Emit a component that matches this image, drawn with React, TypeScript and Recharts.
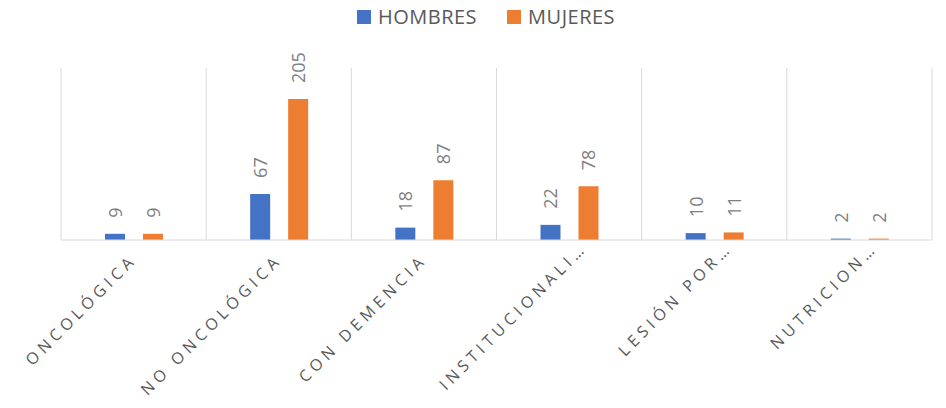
import { BarChart, Bar, XAxis, YAxis, CartesianGrid, LabelList } from 'recharts';

const categories = [
  'ONCOLÓGICA',
  'NO ONCOLÓGICA',
  'CON DEMENCIA',
  'INSTITUCIONALI…',
  'LESIÓN POR…',
  'NUTRICION…',
];
const hombres = [9, 67, 18, 22, 10, 2];
const mujeres = [9, 205, 87, 78, 11, 2];

const BLUE = '#4472C4';
const ORANGE = '#ED7D31';
const FONT = '"Open Sans", "Noto Sans", sans-serif';

const data = categories.map((name, i) => ({ name, hombres: hombres[i], mujeres: mujeres[i] }));

// truncated labels sit a bit further right/up, like Excel does
const AngledTick = ({ x, y, payload }: { x?: number; y?: number; payload?: { value: string } }) => {
  const cut = payload?.value.endsWith('…');
  const dx = cut ? 19 : 4;
  const dy = cut ? 1 : 13;
  return (
    <g transform={`translate(${(x ?? 0) + dx},${(y ?? 0) + dy})`}>
      <text
        textAnchor="end"
        transform="rotate(-45)"
        fontFamily={FONT}
        fontSize={16}
        letterSpacing={4.5}
        fill="#595959"
      >
        {payload?.value}
      </text>
    </g>
  );
};

const VerticalLabel = (props: any) => {
  const { x, y, width, value } = props;
  const cx = x + width / 2 + 7;
  const cy = y - 16;
  return (
    <text
      x={cx}
      y={cy}
      transform={`rotate(-90, ${cx}, ${cy})`}
      textAnchor="start"
      fontFamily={FONT}
      fontSize={18}
      fill="#7f7f7f"
    >
      {value}
    </text>
  );
};

const legendItems = [
  { label: 'HOMBRES', color: BLUE },
  { label: 'MUJERES', color: ORANGE },
];

const TopLegend = () => (
  <div
    style={{
      position: 'absolute',
      top: 2,
      left: 13,
      width: 946,
      display: 'flex',
      justifyContent: 'center',
      gap: 30,
      fontFamily: FONT,
      fontSize: 20,
      lineHeight: '30px',
      letterSpacing: 0.5,
      color: '#595959',
    }}
  >
    {legendItems.map((item) => (
      <span key={item.label} style={{ display: 'flex', alignItems: 'center', gap: 7 }}>
        <span style={{ width: 14, height: 14, background: item.color, display: 'inline-block' }} />
        {item.label}
      </span>
    ))}
  </div>
);

export default function App() {
  return (
    <div style={{ margin: -8, width: 946, height: 408, background: '#fff', position: 'relative' }}>
      <TopLegend />
      <BarChart
        width={946}
        height={408}
        data={data}
        margin={{ top: 68, right: 14, left: 61, bottom: 0 }}
        barGap={18}
        barSize={20}
      >
        <CartesianGrid
          horizontal={false}
          stroke="#d9d9d9"
          verticalCoordinatesGenerator={({ offset }: any) =>
            Array.from({ length: categories.length + 1 }, (_, i) => offset.left + (i * offset.width) / categories.length)
          }
        />
        <XAxis
          dataKey="name"
          interval={0}
          axisLine={{ stroke: '#d9d9d9' }}
          tickLine={false}
          tick={<AngledTick />}
          height={168}
        />
        <YAxis hide domain={[0, 250]} />
        <Bar dataKey="hombres" name="HOMBRES" fill={BLUE} isAnimationActive={false}>
          <LabelList dataKey="hombres" content={<VerticalLabel />} />
        </Bar>
        <Bar dataKey="mujeres" name="MUJERES" fill={ORANGE} isAnimationActive={false}>
          <LabelList dataKey="mujeres" content={<VerticalLabel />} />
        </Bar>
      </BarChart>
    </div>
  );
}
